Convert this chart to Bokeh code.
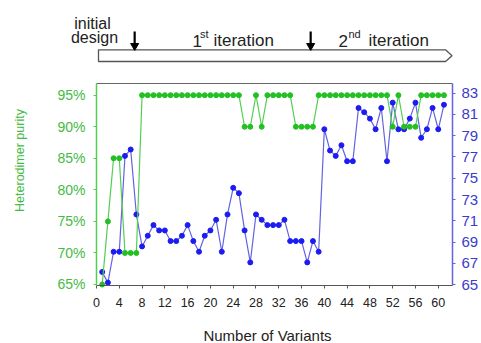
import math
from bokeh.plotting import figure
from bokeh.models import Range1d, LinearAxis, FixedTicker, PrintfTickFormatter
from bokeh.embed import file_html
from bokeh.resources import INLINE
from bokeh.core.properties import value

# ---------------- data ----------------
variants = list(range(1, 62))
purity = [65, 75, 85, 85, 70, 70, 70,
          95, 95, 95, 95, 95, 95, 95, 95, 95, 95, 95, 95, 95, 95, 95, 95, 95, 95,
          90, 90, 95, 90, 95, 95, 95, 95, 95, 90, 90, 90, 90,
          95, 95, 95, 95, 95, 95, 95, 95, 95, 95, 95, 95, 95,
          90, 95, 90, 90, 90, 95, 95, 95, 95, 95]
score = [66.2, 65.2, 68.1, 68.1, 77.1, 77.7, 71.6, 68.6, 69.6, 70.6,
         70.1, 70.1, 69.1, 69.1, 69.6, 70.6, 69.1, 68.1, 69.6, 70.1,
         71.1, 68.1, 71.6, 74.1, 73.6, 70.1, 67.1, 71.6, 71.1, 70.6,
         70.6, 70.6, 71.1, 69.1, 69.1, 69.1, 67.1, 69.1, 68.1, 79.6,
         77.6, 77.1, 78.1, 76.6, 76.6, 81.6, 81.2, 80.6, 79.6, 81.6,
         76.6, 82.1, 79.6, 79.6, 80.6, 82.1, 78.8, 79.6, 81.6, 79.6,
         81.9]
x_ticks = list(range(0, 61, 4))
left_ticks = [65, 70, 75, 80, 85, 90, 95]
right_ticks = list(range(65, 84, 2))
stage_arrows = [6.7, 37.6]

GREEN_LINE = "#52cf52"
GREEN_DOT = "#22c022"
GREEN_TEXT = "#44bb44"
BLUE_LINE = "#6262e2"
BLUE_DOT = "#1c1cf2"
BLUE_TEXT = "#3b3bcc"
DARK = "#222222"
FONT = "Liberation Sans"

# ---------------- geometry (canvas pixels) ----------------
W, H = 481, 343
AX_L, AX_R = 96, 452               # left / right value axes
AX_B, BOX_TOP = 285, 83            # x axis / top edge of the chart box
X0, X1 = 0.0, 62.5
LY0, LPX = 64.84, 6.31             # left axis: value at x axis, px per unit
RY0, RPX = 64.93, 10.65            # right axis
dpp = (X1 - X0) / (AX_R - AX_L)
L_TOP = LY0 + (AX_B - BOX_TOP) / LPX
R_TOP = RY0 + (AX_B - BOX_TOP) / RPX


def px2x(px):
    return X0 + (px - AX_L) * dpp


def py2y(py):
    return LY0 + (AX_B - py) / LPX


p = figure(width=W, height=H,
           x_range=Range1d(px2x(0), px2x(W)),
           y_range=Range1d(py2y(H), py2y(0)),
           min_border=0, min_border_left=0, min_border_right=0,
           min_border_top=0, min_border_bottom=0,
           toolbar_location=None, output_backend="svg")
p.extra_y_ranges = {"right": Range1d(RY0 - (H - AX_B) / RPX, RY0 + AX_B / RPX)}
p.grid.visible = False
p.outline_line_color = None
p.background_fill_color = "white"

# x axis (pinned at the bottom of the chart box)
xa = p.xaxis[0]
xa.ticker = FixedTicker(ticks=x_ticks)
xa.bounds = (X0, X1)
xa.fixed_location = LY0
xa.major_label_text_font = FONT
xa.major_label_text_font_size = "12.5px"
xa.major_label_text_color = DARK
xa.major_label_standoff = 9
xa.axis_line_color = "#555555"
xa.axis_line_width = 1.2
xa.major_tick_line_color = "#555555"
xa.major_tick_in = 0
xa.major_tick_out = 3
xa.minor_tick_line_color = None

# left axis (pinned at x = 0)
ya = p.yaxis[0]
ya.ticker = FixedTicker(ticks=left_ticks)
ya.formatter = PrintfTickFormatter(format="%d%%")
ya.bounds = (LY0, L_TOP)
ya.fixed_location = X0
ya.major_label_text_font = FONT
ya.major_label_text_font_size = "14px"
ya.major_label_text_color = GREEN_TEXT
ya.major_label_standoff = 8
ya.axis_line_color = GREEN_LINE
ya.axis_line_width = 1.5
ya.major_tick_line_color = GREEN_LINE
ya.major_tick_in = 0
ya.major_tick_out = 3
ya.minor_tick_line_color = None

# right axis (pinned at the right edge of the chart box)
ra = LinearAxis(y_range_name="right", ticker=FixedTicker(ticks=right_ticks),
                bounds=(RY0, R_TOP), fixed_location=X1)
ra.major_label_text_font = FONT
ra.major_label_text_font_size = "15px"
ra.major_label_text_color = BLUE_TEXT
ra.major_label_standoff = 6
ra.axis_line_color = BLUE_LINE
ra.axis_line_width = 1.5
ra.major_tick_line_color = BLUE_LINE
ra.major_tick_in = 0
ra.major_tick_out = 3
ra.minor_tick_line_color = None
p.add_layout(ra, "right")

# axis titles
p.text(x=[px2x(19)], y=[py2y(160)], text=["Heterodimer purity"], angle=math.pi / 2,
       text_font=value(FONT), text_font_size="12.5px", text_align="center",
       text_baseline="middle", text_color=GREEN_TEXT)
p.text(x=[px2x(267)], y=[py2y(335)], text=["Number of Variants"],
       text_font=value(FONT), text_font_size="15px", text_align="center",
       text_baseline="middle", text_color=DARK)

# top edge of the chart box
p.line(x=[X0, X1], y=[L_TOP, L_TOP], line_color="#666666", line_width=1.2)

# series
p.line(variants, score, y_range_name="right", line_color=BLUE_LINE, line_width=1.2)
p.scatter(variants, score, y_range_name="right", size=5,
          fill_color=BLUE_DOT, line_color=BLUE_DOT)
p.line(variants, purity, line_color=GREEN_LINE, line_width=1.2)
p.scatter(variants, purity, size=5, fill_color=GREEN_DOT, line_color=GREEN_DOT)

# ---------------- stage strip above the chart ----------------
bx0, bx1, bx2 = px2x(98), px2x(445), px2x(451.5)
p.patch(x=[bx0, bx1, bx2, bx1, bx0],
        y=[py2y(49.3), py2y(49.3), py2y(55.2), py2y(61), py2y(61)],
        fill_color="white", line_color="#555555", line_width=1.3)
p.segment(x0=stage_arrows, y0=[py2y(31)] * 2, x1=stage_arrows, y1=[py2y(43)] * 2,
          line_color="black", line_width=2.2)
p.scatter(x=stage_arrows, y=[py2y(45.3)] * 2, marker="inverted_triangle", size=8,
          fill_color="black", line_color="black")

p.text(x=[px2x(192), px2x(213), px2x(338), px2x(368)], y=[py2y(40)] * 4,
       text=["1", "iteration", "2", "iteration"],
       text_font=value(FONT), text_font_size="17px", text_align="left",
       text_baseline="alphabetic", text_color=DARK)
p.text(x=[px2x(199.5), px2x(348)], y=[py2y(33)] * 2, text=["st", "nd"],
       text_font=value(FONT), text_font_size="11px", text_align="left",
       text_baseline="alphabetic", text_color=DARK)
p.text(x=[px2x(92), px2x(94)], y=[py2y(23), py2y(37)], text=["initial", "design"],
       text_font=value(FONT), text_font_size="16px", text_align="center",
       text_baseline="alphabetic", text_color=DARK)

open("out.html", "w").write(file_html(p, INLINE))
